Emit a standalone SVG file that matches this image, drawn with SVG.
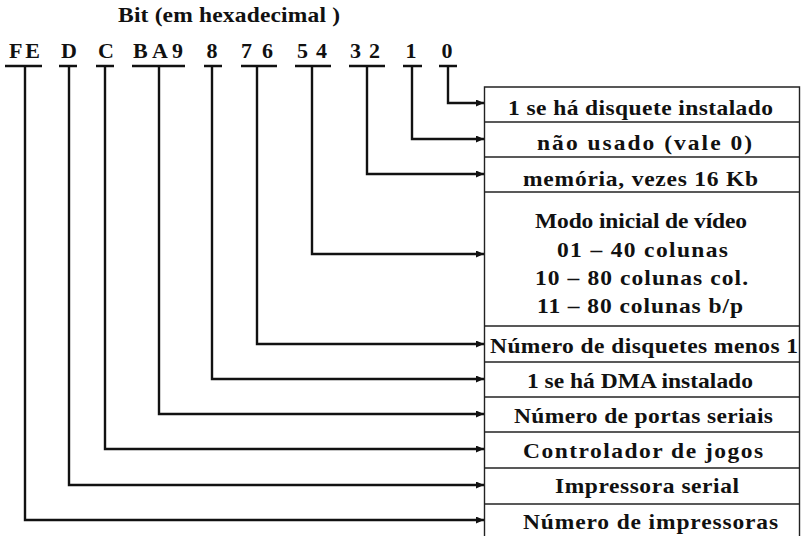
<svg xmlns="http://www.w3.org/2000/svg" width="801" height="536" viewBox="0 0 801 536">
  <style>
    .t { font-family: "Liberation Serif", "Times New Roman", serif; font-weight: bold; fill: #111; }
    .cell { font-size: 21px; }
    .bit { font-size: 22px; }
    .ttl { font-size: 21px; }
    .rule { stroke: #111; stroke-width: 2.5; }
    .wire { fill: none; stroke: #111; stroke-width: 2.4; marker-end: url(#head); }
    .grid { fill: none; stroke: #222; stroke-width: 1.4; }
  </style>
  <defs>
    <marker id="head" markerUnits="userSpaceOnUse" markerWidth="9" markerHeight="8" refX="8" refY="3.5" orient="auto">
      <path d="M0,0 L8,3.5 L0,7 z" fill="#111"/>
    </marker>
  </defs>

  <rect width="801" height="536" fill="#fff"/>

  <!-- header (wide face: glyphs stretched 1.12x horizontally) -->
  <g id="title" transform="scale(1.12 1)">
    <text class="t ttl" x="105.4" y="22" textLength="198.2" lengthAdjust="spacing">Bit (em hexadecimal )</text>
  </g>

  <!-- bit labels with underlines -->
  <g id="bits">
    <text class="t bit" x="9" y="58" textLength="31" lengthAdjust="spacing">FE</text>
    <text class="t bit" x="69" y="58" text-anchor="middle">D</text>
    <text class="t bit" x="106" y="58" text-anchor="middle">C</text>
    <text class="t bit" x="133" y="58" textLength="50" lengthAdjust="spacing">BA9</text>
    <text class="t bit" x="212" y="58" text-anchor="middle">8</text>
    <text class="t bit" x="241" y="58" textLength="32" lengthAdjust="spacing">76</text>
    <text class="t bit" x="297" y="58" textLength="30" lengthAdjust="spacing">54</text>
    <text class="t bit" x="350" y="58" textLength="30" lengthAdjust="spacing">32</text>
    <text class="t bit" x="411" y="58" text-anchor="middle">1</text>
    <text class="t bit" x="447" y="58" text-anchor="middle">0</text>
    <line class="rule" x1="5" y1="66" x2="42" y2="66"/>
    <line class="rule" x1="59" y1="66" x2="77" y2="66"/>
    <line class="rule" x1="96" y1="66" x2="114" y2="66"/>
    <line class="rule" x1="132" y1="66" x2="185" y2="66"/>
    <line class="rule" x1="204" y1="66" x2="222" y2="66"/>
    <line class="rule" x1="241" y1="66" x2="277" y2="66"/>
    <line class="rule" x1="295" y1="66" x2="331" y2="66"/>
    <line class="rule" x1="349" y1="66" x2="385" y2="66"/>
    <line class="rule" x1="403" y1="66" x2="422" y2="66"/>
    <line class="rule" x1="439" y1="66" x2="457" y2="66"/>
  </g>

  <!-- connectors from each bit field to its row -->
  <g id="connectors">
    <polyline class="wire" points="448,66 448,103 484,103"/>
    <polyline class="wire" points="412,66 412,139 484,139"/>
    <polyline class="wire" points="367,66 367,174 484,174"/>
    <polyline class="wire" points="312,66 312,254 484,254"/>
    <polyline class="wire" points="257,66 257,344 484,344"/>
    <polyline class="wire" points="212,66 212,379 484,379"/>
    <polyline class="wire" points="159,66 159,414 484,414"/>
    <polyline class="wire" points="105,66 105,449 484,449"/>
    <polyline class="wire" points="69,66 69,485 484,485"/>
    <polyline class="wire" points="25,66 25,520 484,520"/>
  </g>

  <!-- table frame -->
  <g id="table">
    <path class="grid" d="M484.5,536 V87 H799.5 V536"/>
    <line class="grid" x1="484.5" y1="122" x2="799.5" y2="122"/>
    <line class="grid" x1="484.5" y1="157" x2="799.5" y2="157"/>
    <line class="grid" x1="484.5" y1="192" x2="799.5" y2="192"/>
    <line class="grid" x1="484.5" y1="326" x2="799.5" y2="326"/>
    <line class="grid" x1="484.5" y1="362" x2="799.5" y2="362"/>
    <line class="grid" x1="484.5" y1="397" x2="799.5" y2="397"/>
    <line class="grid" x1="484.5" y1="432" x2="799.5" y2="432"/>
    <line class="grid" x1="484.5" y1="468" x2="799.5" y2="468"/>
    <line class="grid" x1="484.5" y1="504" x2="799.5" y2="504"/>
  </g>

  <!-- row labels (same 1.12x horizontal stretch; x and lengths in stretched units) -->
  <g id="row-bit0" transform="scale(1.12 1)">
    <text class="t cell" x="453.6" y="115" textLength="236.6" lengthAdjust="spacing">1 se há disquete instalado</text>
  </g>
  <g id="row-bit1" transform="scale(1.12 1)">
    <text class="t cell" x="479.5" y="150" textLength="192" lengthAdjust="spacing">não usado (vale 0)</text>
  </g>
  <g id="row-bits32" transform="scale(1.12 1)">
    <text class="t cell" x="467" y="186" textLength="209.8" lengthAdjust="spacing">memória,  vezes 16 Kb</text>
  </g>
  <g id="row-bits54" transform="scale(1.12 1)">
    <text class="t cell" x="477.7" y="228" textLength="189.3" lengthAdjust="spacing">Modo inicial de vídeo</text>
    <text class="t cell" x="497.3" y="257" textLength="152.7" lengthAdjust="spacing">01 – 40 colunas</text>
    <text class="t cell" x="477.7" y="285" textLength="190.2" lengthAdjust="spacing">10 – 80 colunas col.</text>
    <text class="t cell" x="479.5" y="313" textLength="183.9" lengthAdjust="spacing">11 – 80 colunas b/p</text>
  </g>
  <g id="row-bits76" transform="scale(1.12 1)">
    <text class="t cell" x="437.5" y="353" textLength="275" lengthAdjust="spacing">Número de disquetes menos 1</text>
  </g>
  <g id="row-bit8" transform="scale(1.12 1)">
    <text class="t cell" x="470.5" y="388" textLength="201.8" lengthAdjust="spacing">1 se há DMA instalado</text>
  </g>
  <g id="row-bitsBA9" transform="scale(1.12 1)">
    <text class="t cell" x="458.9" y="423" textLength="231.3" lengthAdjust="spacing">Número de portas seriais</text>
  </g>
  <g id="row-bitC" transform="scale(1.12 1)">
    <text class="t cell" x="467" y="458" textLength="214.3" lengthAdjust="spacing">Controlador de jogos</text>
  </g>
  <g id="row-bitD" transform="scale(1.12 1)">
    <text class="t cell" x="495.5" y="493" textLength="164.3" lengthAdjust="spacing">Impressora serial</text>
  </g>
  <g id="row-bitsFE" transform="scale(1.12 1)">
    <text class="t cell" x="467" y="529" textLength="227.7" lengthAdjust="spacing">Número de impressoras</text>
  </g>
</svg>
